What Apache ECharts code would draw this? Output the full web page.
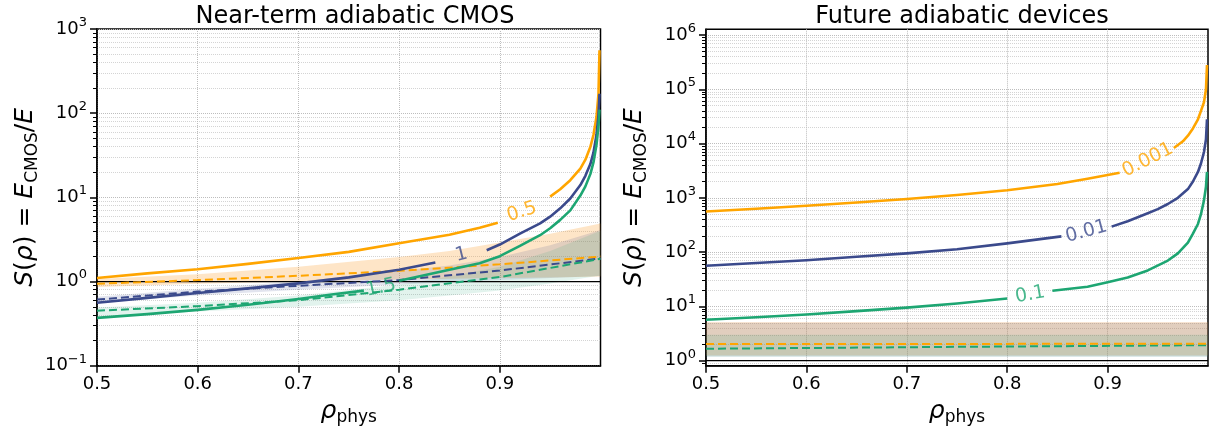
<!DOCTYPE html>
<html><head><meta charset="utf-8">
<script src="https://cdn.jsdelivr.net/npm/echarts@6/dist/echarts.min.js"></script>
<style>html,body{margin:0;padding:0;background:#fff}#c{width:1214px;height:435px}</style>
</head><body><div id="c"></div>
<script>
// ---------------- DATA ----------------
const titles = ['Near-term adiabatic CMOS', 'Future adiabatic devices'];
const xTicks = [0.5, 0.6, 0.7, 0.8, 0.9];
const leftYTicks = [0.1, 1, 10, 100, 1000];
const rightYTicks = [1, 10, 100, 1000, 10000, 100000, 1000000];

// Left panel solid curves (null = gap for inline label)
const leftOrangeRho = [0.5,0.55,0.6,0.65,0.7,0.75,0.8,0.85,0.88,0.898,0.92,0.95,0.96,0.97,0.98,0.985,0.99,0.993,0.996,0.998,0.999];
const leftOrangeVal = [1.1,1.25,1.4,1.62,1.9,2.25,2.85,3.6,4.35,5.0,null,10.2,12.5,16,22,28,40,55,90,170,560];
const leftNavyRho = [0.5,0.55,0.6,0.65,0.7,0.75,0.8,0.836,0.86,0.887,0.9,0.92,0.94,0.95,0.96,0.97,0.98,0.985,0.99,0.993,0.996,0.998,0.999];
const leftNavyVal = [0.56,0.64,0.73,0.83,0.95,1.12,1.38,1.68,null,2.35,2.75,3.7,4.9,5.9,7.4,9.7,14,18,25,34,55,95,170];
const leftGreenRho = [0.5,0.55,0.6,0.65,0.7,0.733,0.765,0.78,0.8,0.85,0.88,0.9,0.92,0.94,0.95,0.96,0.97,0.98,0.985,0.99,0.993,0.996,0.998,0.999];
const leftGreenVal = [0.37,0.41,0.46,0.53,0.62,0.70,0.78,null,1.02,1.38,1.65,2.0,2.65,3.55,4.3,5.4,7.0,10.5,13.5,19,26,42,70,110];
// Left panel dashed curves
const leftDashRho = [0.5,0.6,0.7,0.8,0.9,1.0];
const leftOrangeDash = [0.94,1.04,1.17,1.34,1.6,1.98];
const leftNavyDash = [0.61,0.76,0.89,1.04,1.35,1.88];
const leftGreenDash = [0.45,0.51,0.6,0.8,1.13,1.86];
// Left panel shaded bands
const leftBandRho = [0.5,0.6,0.7,0.8,0.85,0.9,0.95,1.0];
const leftOrangeLo = [0.86,0.94,1.0,1.06,1.08,1.1,1.12,1.15];
const leftOrangeHi = [1.07,1.22,1.5,1.95,2.3,2.9,3.7,4.9];
const leftNavyLo = [0.56,0.68,0.8,0.92,0.98,1.04,1.1,1.16];
const leftNavyHi = [0.66,0.82,1.0,1.33,1.55,1.95,2.7,4.1];
const leftGreenLo = [0.39,0.44,0.5,0.6,0.68,0.78,0.95,1.18];
const leftGreenHi = [0.49,0.56,0.68,0.92,1.15,1.5,2.3,4.0];
// Left inline labels
const leftLabelText = ['0.5', '1', '1.5'];
const leftLabelRho = [0.922, 0.862, 0.782];
const leftLabelVal = [6.7, 2.08, 0.84];

// Right panel solid curves
const rightOrangeRho = [0.5,0.55,0.6,0.65,0.7,0.75,0.8,0.85,0.88,0.912,0.94,0.966,0.975,0.98,0.985,0.99,0.993,0.996,0.998,0.999];
const rightOrangeVal = [560,630,715,820,950,1130,1380,1800,2250,2900,null,8300,11000,14000,19000,28000,40000,58000,100000,280000];
const rightNavyRho = [0.5,0.55,0.6,0.65,0.7,0.75,0.8,0.854,0.88,0.904,0.92,0.94,0.95,0.96,0.97,0.98,0.985,0.99,0.993,0.996,0.998,0.999];
const rightNavyVal = [56,63,71,82,95,113,145,195,null,295,370,520,620,770,1000,1450,2000,3000,4300,7000,12000,28000];
const rightGreenRho = [0.5,0.55,0.6,0.65,0.7,0.75,0.8,0.82,0.845,0.88,0.9,0.92,0.94,0.96,0.97,0.98,0.985,0.99,0.993,0.996,0.998,0.999];
const rightGreenVal = [5.7,6.3,7.1,8.2,9.5,11.3,14,null,19.5,23,28,34,46,70,95,150,220,330,500,900,1600,3000];
// Right panel dashed curves
const rightDashRho = [0.5,0.75,1.0];
const rightOrangeDash = [2.03,2.04,2.05];
const rightGreenDash = [1.66,1.8,1.93];
// Right panel bands
const rightBandRho = [0.5,1.0];
const rightOrangeLo = [1.25,1.25];
const rightOrangeHi = [5.1,5.1];
const rightNavyLo = [1.2,1.2];
const rightNavyHi = [5.0,5.0];
const rightGreenLo = [1.18,1.18];
const rightGreenHi = [3.0,3.0];
// Right inline labels
const rightLabelText = ['0.001', '0.01', '0.1'];
const rightLabelRho = [0.94, 0.879, 0.823];
const rightLabelVal = [5000, 238, 16.4];

// ---------------- STYLE ----------------
const C_OR = '#FFA500', C_NV = '#3B4A8C', C_GR = '#1DA672';
const F = 'DejaVu Sans';

function pairs(r, v) { return r.map((x, i) => [x, v[i] === null ? null : v[i]]); }
function minorVals(k0, k1) { const a = []; for (let k = k0; k <= k1; k++) for (let m = 2; m <= 9; m++) a.push(+(m * Math.pow(10, k)).toPrecision(3)); return a; }

function solid(xi, yi, r, v, color) {
  return { type: 'line', xAxisIndex: xi, yAxisIndex: yi, data: pairs(r, v), showSymbol: false, symbol: 'none',
    connectNulls: false, lineStyle: { color, width: 2.6, join: 'round', cap: 'butt' }, z: 4, silent: true };
}
function dashed(xi, yi, r, v, color) {
  return { type: 'line', xAxisIndex: xi, yAxisIndex: yi, data: pairs(r, v), showSymbol: false, symbol: 'none',
    lineStyle: { color, width: 2, type: [8, 4] }, z: 3, silent: true };
}
function band(xi, yi, r, lo, hi, fill) {
  return { type: 'custom', xAxisIndex: xi, yAxisIndex: yi, silent: true, z: 1, data: [[r[0], lo[0]]],
    renderItem: function (params, api) {
      const pts = [];
      for (let i = 0; i < r.length; i++) pts.push(api.coord([r[i], hi[i]]));
      for (let i = r.length - 1; i >= 0; i--) pts.push(api.coord([r[i], lo[i]]));
      return { type: 'polygon', shape: { points: pts }, style: { fill } };
    } };
}
function unity(xi, yi) {
  return { type: 'line', xAxisIndex: xi, yAxisIndex: yi, data: [[0.5, 1], [1.0, 1]], showSymbol: false, symbol: 'none',
    lineStyle: { color: '#000', width: 1.2 }, z: 2, silent: true };
}
function labels(xi, yi, txt, r, v, colors, rots) {
  return { type: 'scatter', xAxisIndex: xi, yAxisIndex: yi, symbolSize: 0, z: 6, silent: true,
    data: txt.map((t, i) => ({ value: [r[i], v[i]], label: { show: true, position: 'inside', formatter: t,
      color: colors[i], rotate: rots[i], fontSize: 19, fontFamily: F } })) };
}

const supRich = { b: { fontSize: 18, lineHeight: 26, fontFamily: F, color: '#000' },
  sup: { fontSize: 13, lineHeight: 13, verticalAlign: 'top', fontFamily: F, color: '#000' } };
function powFmt(v) { const e = Math.round(Math.log10(v)); return '{b|10}{sup|' + (e < 0 ? '\u2212' + (-e) : e) + '}'; }

const yName = '{i|S}{n|(}{i|ρ}{n|) = }{i|E}{s|CMOS}{n|/}{i|E}';
const yNameStyle = { rich: {
  i: { fontSize: 25, fontStyle: 'italic', fontFamily: F, color: '#000', lineHeight: 32 },
  n: { fontSize: 25, fontFamily: F, color: '#000', lineHeight: 32 },
  s: { fontSize: 17, fontFamily: F, color: '#000', lineHeight: 17, verticalAlign: 'bottom' } } };
const xName = '{r|ρ}{s|phys}';
const xNameStyle = { rich: {
  r: { fontSize: 25, fontStyle: 'italic', fontFamily: F, color: '#000', lineHeight: 30 },
  s: { fontSize: 17, fontFamily: F, color: '#000', lineHeight: 17, verticalAlign: 'bottom' } } };

function xAxis(gi) {
  return { type: 'value', gridIndex: gi, min: 0.5, max: 1.0, name: xName, nameLocation: 'middle', nameGap: 30,
    nameTextStyle: xNameStyle,
    axisLine: { show: true, lineStyle: { color: '#000', width: 1.5 } },
    axisTick: { show: true, length: 7, customValues: xTicks, lineStyle: { color: '#000', width: 1.5 } },
    axisLabel: { customValues: xTicks, formatter: v => v.toFixed(1), fontSize: 18, fontFamily: F, color: '#000', margin: 10 },
    splitLine: { show: true, lineStyle: { type: 'dotted', color: '#bdbdbd', width: 1 } } };
}
function yMain(gi, mn, mx, ticks) {
  return { type: 'log', logBase: 10, gridIndex: gi, min: mn, max: mx, position: 'left',
    name: yName, nameLocation: 'middle', nameRotate: 90, nameGap: 56, nameTextStyle: yNameStyle,
    axisLine: { show: true, lineStyle: { color: '#000', width: 1.5 } },
    axisTick: { show: true, length: 7, customValues: ticks, lineStyle: { color: '#000', width: 1.5 } },
    axisLabel: { customValues: ticks, formatter: powFmt, rich: supRich, margin: 10 },
    splitLine: { show: true, lineStyle: { type: 'dotted', color: '#bdbdbd', width: 1 } } };
}
function yMinor(gi, mn, mx, vals) {
  return { type: 'log', logBase: 10, gridIndex: gi, min: mn, max: mx, position: 'left',
    axisLine: { show: false }, axisLabel: { show: false },
    axisTick: { show: true, length: 4, customValues: vals, lineStyle: { color: '#000', width: 1 } },
    splitLine: { show: true, lineStyle: { type: 'dotted', color: '#d4d4d4', width: 1 } } };
}

const rMin = Math.pow(10, -0.092), rMax = Math.pow(10, 6.105);
const leftMinor = minorVals(-1, 2);
const rightMinor = [0.9].concat(minorVals(0, 5));

const option = {
  animation: false,
  backgroundColor: '#fff',
  title: [
    { text: titles[0], left: 350, top: 0, textAlign: 'center', textStyle: { fontSize: 24, fontWeight: 'normal', fontFamily: F, color: '#000' } },
    { text: titles[1], left: 957, top: 0, textAlign: 'center', textStyle: { fontSize: 24, fontWeight: 'normal', fontFamily: F, color: '#000' } }
  ],
  grid: [
    { left: 97, top: 29, width: 503.5, height: 336.7, show: true, borderColor: '#000', borderWidth: 1.5, backgroundColor: 'transparent' },
    { left: 706, top: 29.3, width: 502, height: 336.4, show: true, borderColor: '#000', borderWidth: 1.5, backgroundColor: 'transparent' }
  ],
  xAxis: [xAxis(0), xAxis(1)],
  yAxis: [yMain(0, 0.1, 1000, leftYTicks), yMinor(0, 0.1, 1000, leftMinor),
          yMain(1, rMin, rMax, rightYTicks), yMinor(1, rMin, rMax, rightMinor)],
  series: [
    band(0, 0, leftBandRho, leftOrangeLo, leftOrangeHi, 'rgba(250,150,30,0.25)'),
    band(0, 0, leftBandRho, leftNavyLo, leftNavyHi, 'rgba(60,74,142,0.15)'),
    band(0, 0, leftBandRho, leftGreenLo, leftGreenHi, 'rgba(29,166,114,0.13)'),
    unity(0, 0),
    dashed(0, 0, leftDashRho, leftOrangeDash, C_OR),
    dashed(0, 0, leftDashRho, leftNavyDash, C_NV),
    dashed(0, 0, leftDashRho, leftGreenDash, C_GR),
    solid(0, 0, leftOrangeRho, leftOrangeVal, C_OR),
    solid(0, 0, leftNavyRho, leftNavyVal, C_NV),
    solid(0, 0, leftGreenRho, leftGreenVal, C_GR),
    labels(0, 0, leftLabelText, leftLabelRho, leftLabelVal, [C_OR, C_NV, C_GR], [18, 14, 12]),

    band(1, 2, rightBandRho, rightOrangeLo, rightOrangeHi, 'rgba(250,150,30,0.25)'),
    band(1, 2, rightBandRho, rightNavyLo, rightNavyHi, 'rgba(60,74,142,0.15)'),
    band(1, 2, rightBandRho, rightGreenLo, rightGreenHi, 'rgba(29,166,114,0.13)'),
    unity(1, 2),
    dashed(1, 2, rightDashRho, rightGreenDash, C_GR),
    dashed(1, 2, rightDashRho, rightOrangeDash, C_OR),
    solid(1, 2, rightOrangeRho, rightOrangeVal, C_OR),
    solid(1, 2, rightNavyRho, rightNavyVal, C_NV),
    solid(1, 2, rightGreenRho, rightGreenVal, C_GR),
    labels(1, 2, rightLabelText, rightLabelRho, rightLabelVal, [C_OR, C_NV, C_GR], [27, 15, 10])
  ]
};
const chart = echarts.init(document.getElementById('c'), null, { renderer: 'canvas' });
chart.setOption(option);
</script></body></html>
